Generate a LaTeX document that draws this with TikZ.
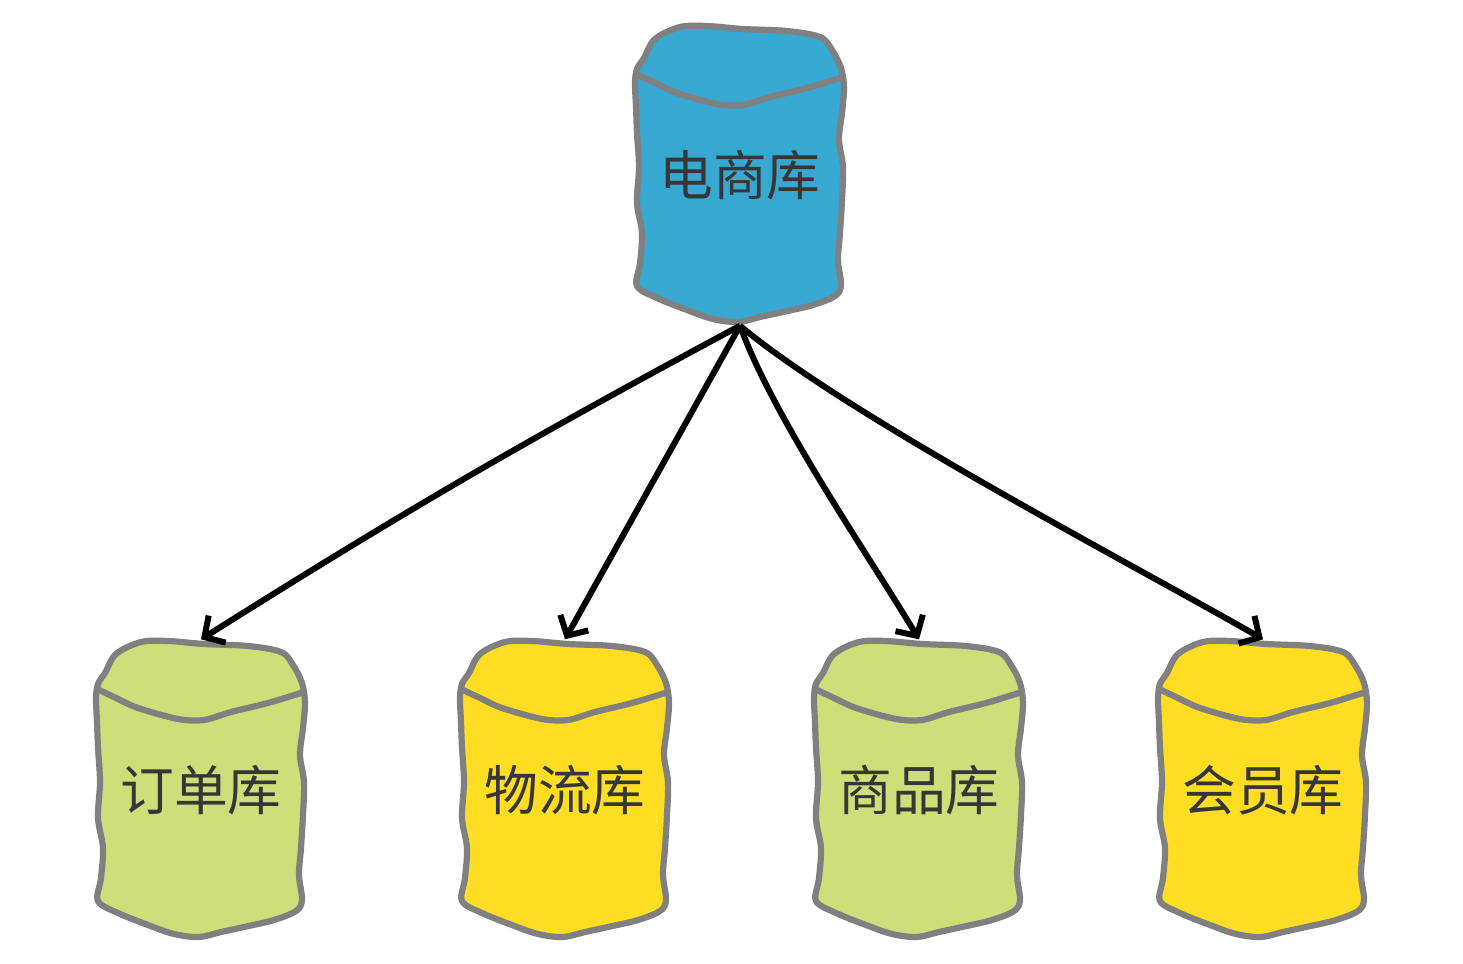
\documentclass[tikz,border=0pt]{standalone}
\usepackage{fontspec}
\newfontfamily\cjk{Noto Sans CJK SC}
\usetikzlibrary{arrows.meta}
\definecolor{shopblue}{HTML}{36A8D2}
\definecolor{leafgreen}{HTML}{CEDF7A}
\definecolor{sunyellow}{HTML}{FFDD22}
\definecolor{rimgray}{HTML}{808080}
\definecolor{inkgray}{HTML}{363636}
\tikzset{
	rim/.style={draw=rimgray, line width=0.062cm, line join=round},
	dbname/.style={minimum width=2.1cm, minimum height=3cm, inner sep=0pt, text=inkgray, font=\cjk\fontsize{15.3}{18}\selectfont},
	link/.style={black, line width=0.06cm, -{Straight Barb[length=1.5mm, width=3.2mm, line width=0.06cm]}}
}
\def\dbcan[#1](#2)(#3)#4{
	\draw[rim, fill=#1, shift={(#3)}] plot[smooth cycle, tension=0.55] coordinates {(-1.05,0.92) (-1.03,1.06) (-0.96,1.17) (-0.85,1.36) (-0.60,1.48) (-0.33,1.49) (0.03,1.46) (0.47,1.44) (0.80,1.38) (0.92,1.25) (1.01,1.07) (1.04,0.87) (1.02,0.62) (0.99,0.35) (1.03,0.08) (1.02,-0.25) (1.00,-0.58) (0.98,-0.85) (1.01,-1.10) (0.95,-1.21) (0.73,-1.30) (0.43,-1.37) (0.20,-1.42) (-0.02,-1.47) (-0.27,-1.44) (-0.53,-1.35) (-0.83,-1.23) (-1.03,-1.11) (-1.00,-0.88) (-0.98,-0.58) (-1.03,-0.28) (-1.01,0.08) (-1.03,0.42) (-1.04,0.68)};
	\draw[rim, shift={(#3)}] plot[smooth, tension=0.5] coordinates {(-1.04,1.01) (-0.87,0.93) (-0.63,0.82) (-0.23,0.71) (0.03,0.70) (0.30,0.78) (0.67,0.87) (1.03,0.98)};
	\node[dbname] (#2) at (#3) {#4};
}

\begin{document}
\begin{tikzpicture}
	%%%%% START %%%%%
	\useasboundingbox (0, 0) rectangle (14.63, 9.63);
	
	\dbcan[shopblue](shop)(7.40, 7.88){电商库}
	
	\dbcan[leafgreen](order)(2.01, 1.73){订单库}
	\dbcan[sunyellow](logistics)(5.65, 1.73){物流库}
	\dbcan[leafgreen](goods)(9.19, 1.73){商品库}
	\dbcan[sunyellow](member)(12.63, 1.73){会员库}
	
	\draw[link] (shop.south) to[bend right=2] (order.north);
	\draw[link] (shop.south) -- (logistics.north);
	\draw[link] (shop.south) to[out=-70, in=121, looseness=0.7] (goods.north);
	\draw[link] (shop.south) to[out=-40, in=150, looseness=0.6] (member.north);
	%%%%% END %%%%%
\end{tikzpicture}
\end{document}
